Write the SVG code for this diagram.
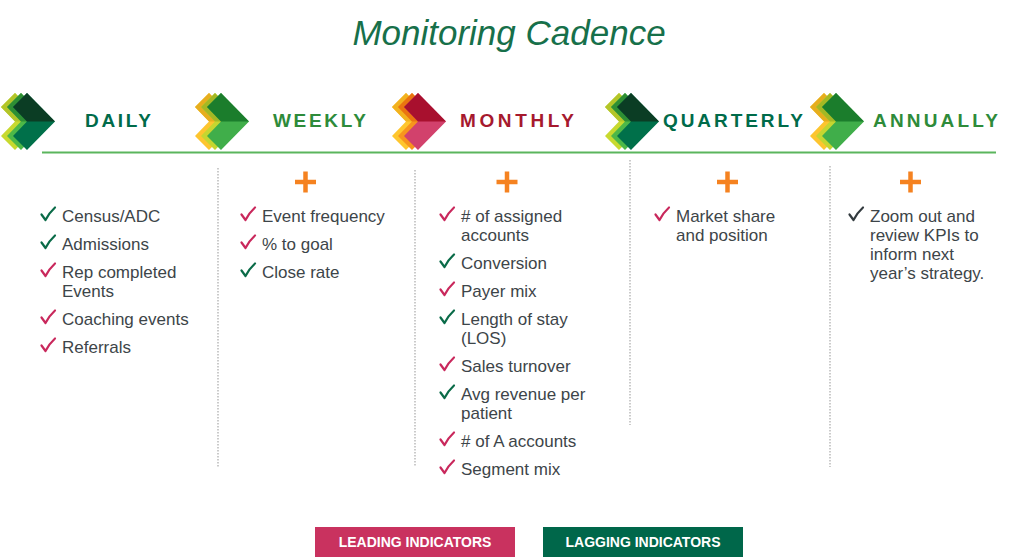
<svg xmlns="http://www.w3.org/2000/svg" width="1024" height="559" viewBox="0 0 1024 559">
<style>
.title{font-family:"Liberation Sans",Arial,sans-serif;font-style:italic;font-size:35px;fill:#17704a}
.hd{font-family:"Liberation Sans",Arial,sans-serif;font-weight:bold;font-size:19px}
.dg{fill:#006b4a}.mg{fill:#2e8b3a}.rd{fill:#a6192e}
.it{font-family:"Liberation Sans",Arial,sans-serif;font-size:17px;fill:#3d4549}
.cp{stroke:#c9285c}.cg{stroke:#0a6b48}.ck0{stroke:#333b3f}
.sep{stroke:#a8a8a8;stroke-width:1.2;stroke-dasharray:1.5 1.5;fill:none}
.plus{stroke:#f58220;stroke-width:4.5;fill:none}
.lg{font-family:"Liberation Sans",Arial,sans-serif;font-weight:bold;font-size:14px;fill:#ffffff}
</style>
<defs>
<polygon id="chev" points="0,107 14,93 42,121.5 14,150 0,136 14,121.5"/>
<polygon id="chevU" points="0,107 14,93 42,121.5 14,121.5"/>
<path id="ck" d="M0.5 -6.5 L4.5 -1 Q8 -8 14 -13.5" fill="none" stroke-width="2.2" stroke-linecap="round" stroke-linejoin="round"/>
<g id="iconG">
<use href="#chev" x="1" fill="#c8d92f"/><use href="#chevU" x="1" fill="#b3c529"/>
<use href="#chev" x="7" fill="#4db848"/><use href="#chevU" x="7" fill="#2e8f34"/>
<use href="#chev" x="13" fill="#00704a"/><use href="#chevU" x="13" fill="#0b3d24"/>
</g>
<g id="iconW">
<use href="#chev" x="1" fill="#fdc52f"/><use href="#chevU" x="1" fill="#e6ae1e"/>
<use href="#chev" x="7" fill="#c5d630"/><use href="#chevU" x="7" fill="#a4b824"/>
<use href="#chev" x="13" fill="#40ae4a"/><use href="#chevU" x="13" fill="#1b7d2c"/>
</g>
<g id="iconM">
<use href="#chev" x="1" fill="#fec62e"/><use href="#chevU" x="1" fill="#f2b21f"/>
<use href="#chev" x="7" fill="#f7941d"/><use href="#chevU" x="7" fill="#ea7410"/>
<use href="#chev" x="13" fill="#d2416c"/><use href="#chevU" x="13" fill="#a8102e"/>
</g>
</defs>
<rect width="1024" height="559" fill="#ffffff"/>
<text class="title" x="509" y="45" text-anchor="middle">Monitoring Cadence</text>

<g id="connectors">
<line x1="42" y1="152.5" x2="996" y2="152.5" stroke="#5bb55d" stroke-width="2"/>
<line class="sep" x1="218" y1="168" x2="218" y2="467"/>
<line class="sep" x1="415" y1="170" x2="415" y2="467"/>
<line class="sep" x1="630" y1="160" x2="630" y2="425"/>
<line class="sep" x1="830" y1="166" x2="830" y2="467"/>
</g>

<g id="daily">
<use href="#iconG" x="0"/>
<text class="hd dg" x="85" y="127" textLength="66" lengthAdjust="spacing">DAILY</text>
<use href="#ck" class="cg" x="41" y="221"/><text class="it" x="62" y="222">Census/ADC</text>
<use href="#ck" class="cg" x="41" y="249"/><text class="it" x="62" y="250">Admissions</text>
<use href="#ck" class="cp" x="41" y="277"/><text class="it" x="62" y="278">Rep completed</text>
<text class="it" x="62" y="297">Events</text>
<use href="#ck" class="cp" x="41" y="324"/><text class="it" x="62" y="325">Coaching events</text>
<use href="#ck" class="cp" x="41" y="352"/><text class="it" x="62" y="353">Referrals</text>
</g>

<g id="weekly">
<use href="#iconW" x="194"/>
<text class="hd mg" x="273" y="127" textLength="93" lengthAdjust="spacing">WEEKLY</text>
<path class="plus" d="M295 182h21M305.5 171.5v21"/>
<use href="#ck" class="cp" x="241" y="221"/><text class="it" x="262" y="222">Event frequency</text>
<use href="#ck" class="cp" x="241" y="249"/><text class="it" x="262" y="250">% to goal</text>
<use href="#ck" class="cg" x="241" y="277"/><text class="it" x="262" y="278">Close rate</text>
</g>

<g id="monthly">
<use href="#iconM" x="391"/>
<text class="hd rd" x="460" y="127" textLength="114" lengthAdjust="spacing">MONTHLY</text>
<path class="plus" d="M496.5 182h21M507 171.5v21"/>
<use href="#ck" class="cp" x="440" y="221"/><text class="it" x="461" y="222">#  of  assigned</text>
<text class="it" x="461" y="241">accounts</text>
<use href="#ck" class="cg" x="440" y="268"/><text class="it" x="461" y="269">Conversion</text>
<use href="#ck" class="cp" x="440" y="296"/><text class="it" x="461" y="297">Payer mix</text>
<use href="#ck" class="cg" x="440" y="324"/><text class="it" x="461" y="325">Length of  stay</text>
<text class="it" x="461" y="344">(LOS)</text>
<use href="#ck" class="cp" x="440" y="371"/><text class="it" x="461" y="372">Sales turnover</text>
<use href="#ck" class="cg" x="440" y="399"/><text class="it" x="461" y="400">Avg revenue per</text>
<text class="it" x="461" y="419">patient</text>
<use href="#ck" class="cp" x="440" y="446"/><text class="it" x="461" y="447">#  of  A accounts</text>
<use href="#ck" class="cp" x="440" y="474"/><text class="it" x="461" y="475">Segment mix</text>
</g>

<g id="quarterly">
<use href="#iconG" x="604"/>
<text class="hd dg" x="663" y="127" textLength="140" lengthAdjust="spacing">QUARTERLY</text>
<path class="plus" d="M717 182h21M727.5 171.5v21"/>
<use href="#ck" class="cp" x="655" y="221"/><text class="it" x="676" y="222">Market share</text>
<text class="it" x="676" y="241">and position</text>
</g>

<g id="annually">
<use href="#iconW" x="809"/>
<text class="hd mg" x="873" y="127" textLength="125" lengthAdjust="spacing">ANNUALLY</text>
<path class="plus" d="M900 182h21M910.5 171.5v21"/>
<use href="#ck" class="ck0" x="849" y="221"/><text class="it" x="870" y="222">Zoom out and</text>
<text class="it" x="870" y="241">review KPIs to</text>
<text class="it" x="870" y="260">inform next</text>
<text class="it" x="870" y="279">year’s strategy.</text>
</g>

<g id="legend-leading">
<rect x="315" y="527" width="200" height="30" fill="#c9325f"/>
<text class="lg" x="415" y="547" text-anchor="middle">LEADING INDICATORS</text>
</g>
<g id="legend-lagging">
<rect x="543" y="527" width="200" height="30" fill="#00674a"/>
<text class="lg" x="643" y="547" text-anchor="middle">LAGGING INDICATORS</text>
</g>
</svg>
